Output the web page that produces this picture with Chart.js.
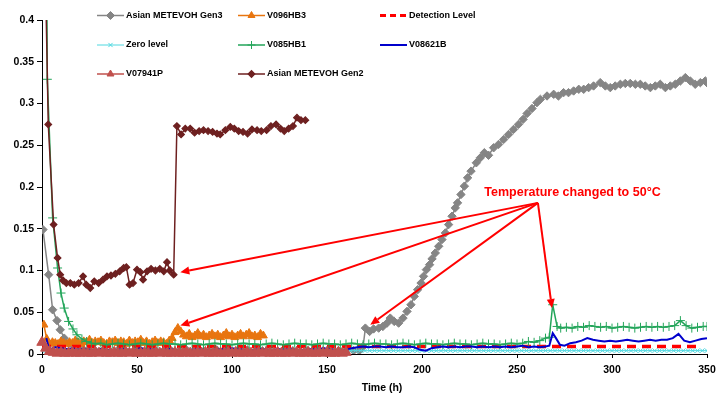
<!DOCTYPE html>
<html><head><meta charset="utf-8">
<script src="https://cdn.jsdelivr.net/npm/chart.js@4.4.1/dist/chart.umd.min.js"></script>
<style>html,body{margin:0;padding:0;background:#fff}canvas{display:block}</style>
</head><body>
<canvas id="c" width="724" height="398"></canvas>
<script>
// ---------- data ----------
const seriesNames = ["Asian METEVOH Gen3","V096HB3","Detection Level","Zero level","V085HB1","V08621B","V07941P","Asian METEVOH Gen2"];
const xTicks = [0,50,100,150,200,250,300,350];
const yTicks = [0,0.05,0.1,0.15,0.2,0.25,0.3,0.35,0.4];

const gen3 = [[0.5,0.149],[3.5,0.095],[5.6,0.053],[7.9,0.040],[9.6,0.029],[11.7,0.019],[14,0.013],[16.3,0.011],[18.4,0.009],[21,0.007],[24,0.005],[28,0.004],
[32,0.004],[36,0.003],[40,0.005],[44,0.004],[48,0.003],[52,0.004],[56,0.005],[60,0.003],[64,0.004],[68,0.004],[72,0.003],[76,0.005],[80,0.004],[84,0.003],[88,0.004],[92,0.005],[96,0.004],[100,0.003],[104,0.004],[108,0.005],[112,0.003],[116,0.004],[120,0.004],[124,0.003],[128,0.005],[132,0.004],[136,0.003],[140,0.004],[144,0.005],[148,0.004],[152,0.003],[156,0.004],[160,0.005],[164,0.004],
[167,0.004],[169,0.009],[170.2,0.031],[172.4,0.027],[174.5,0.030],[177.2,0.031],[179.4,0.033],[181.6,0.037],[183.3,0.043],[185.4,0.039],[187.7,0.037],[190,0.043],[192.1,0.051],[194.2,0.059],[195.9,0.069],[197.7,0.077],[199.5,0.085],[200.8,0.093],[202.3,0.101],[204,0.107],[205.3,0.114],[207,0.121],[208.8,0.129],[210.5,0.137],[212.3,0.145],[214,0.155],[215.8,0.165],[217.5,0.175],[218.7,0.181],[220.5,0.191],[222.3,0.201],[224,0.211],[225.8,0.219],[228.6,0.229],[230.7,0.235],[232.8,0.241],[235,0.238],[237.7,0.247],[240.3,0.251],[243,0.257],[245.6,0.263],[248.2,0.269],[250.8,0.275],[253.2,0.281],[255.3,0.288],[257.9,0.294],[260.5,0.301],[262.3,0.305],[265.8,0.309],[269.3,0.311],[271.8,0.309],[274.5,0.313],[277.1,0.313],[279.8,0.315],[282.5,0.317],[285.1,0.317],[287.7,0.319],[290.3,0.321],[293.8,0.325],[296.5,0.321],[299.1,0.319],[301.7,0.321],[304.4,0.323],[307,0.324],[309.6,0.324],[312.3,0.323],[314.9,0.323],[317.5,0.321],[320.2,0.319],[322.8,0.321],[325.4,0.323],[328.1,0.319],[330.7,0.321],[333.3,0.323],[336,0.327],[338.6,0.331],[341.2,0.327],[343.8,0.323],[346.5,0.325],[349.1,0.327],[350.8,0.323]];

const gen2 = [[1,0.55],[3.3,0.275],[6.1,0.155],[8.2,0.115],[9.6,0.095],[11.1,0.088],[12.8,0.085],[14.9,0.085],[17,0.083],[19.3,0.085],[21.6,0.093],[23.3,0.083],[25.4,0.079],[27.5,0.087],[29.8,0.085],[32.1,0.089],[34.2,0.093],[36.3,0.094],[38.6,0.096],[40.9,0.099],[43,0.103],[44.4,0.104],[46.1,0.083],[47.9,0.085],[50,0.101],[51.8,0.098],[53.2,0.089],[55.3,0.099],[57.4,0.102],[59.7,0.100],[62,0.102],[64.1,0.099],[65.8,0.110],[67.2,0.100],[69.3,0.095],
[71,0.273],[73.2,0.263],[75.4,0.270],[78,0.270],[80.3,0.265],[82.7,0.267],[85,0.268],[87.4,0.267],[89.8,0.266],[92.1,0.264],[93.8,0.263],[96.5,0.268],[99.1,0.272],[101.2,0.270],[103.5,0.267],[105.8,0.266],[108.2,0.264],[110.5,0.269],[113.2,0.268],[115.4,0.267],[118.2,0.268],[120.5,0.273],[123.2,0.275],[125.5,0.270],[127.5,0.267],[129.8,0.270],[132.1,0.273],[134.2,0.283],[136.3,0.280],[138.6,0.280]];

const orangeStart = 1, orangeStep = 1.5;
const v096hb3 = [0.035,0.018,0.012,0.014,0.013,0.012,0.015,0.013,0.012,0.014,0.013,0.016,0.014,0.012,0.015,0.014,0.017,0.013,0.015,0.014,0.016,0.013,0.012,0.015,0.014,0.016,0.013,0.015,0.014,0.012,0.016,0.013,0.015,0.014,0.017,0.013,0.015,0.012,0.014,0.016,0.013,0.015,0.014,0.012,0.016,0.019,0.026,0.031,0.027,0.023,0.021,0.024,0.020,0.022,0.025,0.021,0.023,0.020,0.022,0.024,0.021,0.023,0.020,0.022,0.025,0.021,0.023,0.020,0.022,0.024,0.021,0.023,0.025,0.021,0.022,0.020,0.024,0.022];

const greenEarly = [[2.2,0.55],[2.8,0.329],[5.6,0.163],[8.2,0.103],[10,0.073],[11.7,0.055],[14,0.039],[16.3,0.030],[18.4,0.023],[21,0.018],[23.5,0.015],[26,0.013]];
const greenMidStart = 28, greenStep = 3;
const greenMid = [0.012,0.013,0.011,0.012,0.013,0.012,0.011,0.012,0.013,0.012,0.011,0.012,0.013,0.012,0.012,0.011,0.012,0.013,0.012,0.011,0.012,0.013,0.012,0.012,0.011,0.012,0.013,0.012,0.012,0.011,0.012,0.013,0.012,0.011,0.012,0.013,0.012,0.012,0.011,0.012,0.013,0.012,0.012,0.011,0.012,0.013,0.012,0.011,0.012,0.013,0.012,0.012,0.011,0.012,0.013,0.012,0.011,0.012,0.013,0.012,0.012,0.011,0.012,0.013,0.012,0.012,0.011,0.012,0.013,0.012,0.012,0.011,0.012,0.013,0.012,0.013,0.015,0.014,0.016,0.019];
const greenSpike = [[267,0.020],[268.8,0.059],[271.1,0.033]];
const greenLateStart = 273;
const greenLate = [0.031,0.032,0.031,0.033,0.032,0.034,0.033,0.032,0.033,0.031,0.032,0.033,0.032,0.031,0.032,0.033,0.032,0.033,0.032,0.033,0.034,0.040,0.034,0.031,0.032,0.033];
const greenEnd = [[350,0.033]];

const blueEarly = [[2.3,0.019],[4,0.003],[5.5,0.007]];
const blueMidStart = 7, blueStep = 3;
const blueMid = [0.008,0.007,0.006,0.007,0.005,0.006,0.005,0.004,0.006,0.005,0.004,0.005,0.006,0.004,0.005,0.007,0.005,0.006,0.004,0.005,0.006,0.005,0.004,0.003,0.005,0.006,0.005,0.004,0.005,0.006,0.005,0.007,0.006,0.005,0.004,0.005,0.006,0.005,0.004,0.006,0.005,0.006,0.005,0.004,0.005,0.006,0.005,0.007,0.006,0.005,0.004,
0.005,0.007,0.008,0.009,0.008,0.009,0.009,0.008,0.009,0.008,0.008,0.009,0.008,0.005,0.004,0.007,0.008,0.009,0.008,0.009,0.008,0.009,0.009,0.008,0.009,0.008,0.009,0.008,0.009,0.008,0.009,0.010,0.008,0.009,0.008,0.009];
const blueLate = [[267,0.010],[268.8,0.025],[270.5,0.019],[272.6,0.011],[275,0.010],[278,0.013],[281,0.014],[284,0.016],[287,0.019],[290,0.017],[293,0.016],[296,0.015],[299,0.016],[302,0.015],[305,0.016],[308,0.017],[311,0.016],[314,0.015],[317,0.016],[320,0.017],[323,0.016],[326,0.017],[329,0.017],[332,0.019],[335,0.024],[338,0.016],[341,0.014],[344,0.016],[347,0.018],[350,0.019]];

const roseStart = 0, roseStep = 2;
const v07941p = [0.014,0.007,0.003,0.002,0.001,0.002,0.001,0.001,0.002,0.001,0.001,0.002,0.001,0.001,0.002,0.001,0.002,0.001,0.001,0.002,0.001,0.001,0.002,0.001,0.002,0.001,0.001,0.002,0.001,0.001,0.002,0.001,0.002,0.001,0.001,0.002,0.001,0.001,0.002,0.001,0.001,0.002,0.001,0.002,0.001,0.001,0.002,0.001,0.001,0.002,0.001,0.002,0.001,0.001,0.002,0.001,0.001,0.002,0.001,0.002,0.001,0.001,0.002,0.001,0.001,0.002,0.001,0.002,0.001,0.001,0.002,0.001,0.001,0.002,0.001,0.002,0.001,0.001,0.002,0.001,0.002];

const zeroLevel = 0.004, zeroStart = 0, zeroEnd = 350, zeroStep = 2.5;
const detectionLevel = 0.009, detectionStart = 0, detectionEnd = 347;

// annotation (data coordinates)
const noteText = "Temperature changed to 50°C";
const noteAt = [232.8, 0.193];
const arrowFrom = [261, 0.181];
const arrowToX = [72.8, 72.8, 172.8, 268.4];
const arrowToY = [0.098, 0.034, 0.035, 0.055];
const xTitle = "Time (h)";

// ---------- build ----------
const pairs = a => a.map(p => ({x:p[0], y:p[1]}));
const grid = (start, step, vals) => vals.map((v,i) => ({x: +(start + i*step).toFixed(2), y: v}));
const constLine = (v, a, b, step) => { const out=[]; for (let t=a; t<=b+1e-9; t+=step) out.push({x:t,y:v}); return out; };

const C = {gen3:'#858585', orange:'#E8750F', red:'#FF0000', cyan:'#4FD8E0', green:'#23A55A', blue:'#0000CC', rose:'#C0504D', gen2:'#6E2020'};

const datasets = [
 {label:seriesNames[0], data:pairs(gen3), borderColor:C.gen3, backgroundColor:C.gen3, borderWidth:1.5, pointStyle:'rectRot', pointRadius:4.2, pointBorderWidth:1, order:8},
 {label:seriesNames[1], data:grid(orangeStart, orangeStep, v096hb3), borderColor:C.orange, backgroundColor:C.orange, borderWidth:1.5, pointStyle:'triangle', pointRadius:4.6, pointBorderWidth:1, order:7},
 {label:seriesNames[2], data:[{x:detectionStart,y:detectionLevel},{x:detectionEnd,y:detectionLevel}], borderColor:C.red, backgroundColor:C.red, borderWidth:3.5, borderDash:[9,6], pointRadius:0, order:6},
 {label:seriesNames[3], data:constLine(zeroLevel, zeroStart, zeroEnd, zeroStep), borderColor:C.cyan, backgroundColor:C.cyan, borderWidth:1, pointStyle:'crossRot', pointRadius:3, pointBorderWidth:1, order:5},
 {label:seriesNames[4], data:[...pairs(greenEarly), ...grid(greenMidStart, greenStep, greenMid), ...pairs(greenSpike), ...grid(greenLateStart, greenStep, greenLate), ...pairs(greenEnd)], borderColor:C.green, backgroundColor:C.green, borderWidth:1.5, pointStyle:'cross', pointRadius:4.5, pointBorderWidth:1, order:4},
 {label:seriesNames[5], data:[...pairs(blueEarly), ...grid(blueMidStart, blueStep, blueMid), ...pairs(blueLate)], borderColor:C.blue, backgroundColor:C.blue, borderWidth:2, pointRadius:0, order:3},
 {label:seriesNames[6], data:grid(roseStart, roseStep, v07941p), borderColor:C.rose, backgroundColor:C.rose, borderWidth:1.5, pointStyle:'triangle', pointRadius:6, pointBorderWidth:1, order:2, clip:{left:6,right:6,top:6,bottom:6}},
 {label:seriesNames[7], data:pairs(gen2), borderColor:C.gen2, backgroundColor:C.gen2, borderWidth:1.5, pointStyle:'rectRot', pointRadius:3.3, pointBorderWidth:1.2, order:1}
];

const FONT = '"Liberation Sans", Arial, sans-serif';

const overlay = {
  id:'overlay',
  afterDatasetsDraw(chart){
    const {ctx, scales:{x, y}} = chart;
    ctx.save();
    const fx = x.getPixelForValue(arrowFrom[0]), fy = y.getPixelForValue(arrowFrom[1]);
    ctx.strokeStyle = '#FF0000'; ctx.fillStyle = '#FF0000'; ctx.lineWidth = 2;
    arrowToX.forEach((tx, i) => {
      const px = x.getPixelForValue(tx), py = y.getPixelForValue(arrowToY[i]);
      const ang = Math.atan2(py - fy, px - fx);
      const hl = 9, hw = 4;
      const bx = px - hl*Math.cos(ang), by = py - hl*Math.sin(ang);
      ctx.beginPath(); ctx.moveTo(fx, fy); ctx.lineTo(bx, by); ctx.stroke();
      ctx.beginPath();
      ctx.moveTo(px, py);
      ctx.lineTo(bx + hw*Math.sin(ang), by - hw*Math.cos(ang));
      ctx.lineTo(bx - hw*Math.sin(ang), by + hw*Math.cos(ang));
      ctx.closePath(); ctx.fill();
    });
    ctx.font = 'bold 12.5px ' + FONT;
    ctx.textAlign = 'left'; ctx.textBaseline = 'middle';
    ctx.fillText(noteText, x.getPixelForValue(noteAt[0]), y.getPixelForValue(noteAt[1]));
    ctx.restore();
  },
  afterDraw(chart){
    const {ctx} = chart;
    ctx.save();
    ctx.font = 'bold 10.5px ' + FONT; ctx.fillStyle = '#000';
    ctx.textAlign = 'center'; ctx.textBaseline = 'middle';
    ctx.fillText(xTitle, 382, 388);
    const cols = [97, 238, 380], rows = [15.5, 45, 74];
    chart.data.datasets.forEach((ds, i) => {
      const cx = cols[i % 3], cy = rows[Math.floor(i / 3)];
      ctx.save();
      ctx.strokeStyle = ds.borderColor; ctx.fillStyle = ds.backgroundColor;
      ctx.lineWidth = Math.min(ds.borderWidth, 3);
      ctx.setLineDash(ds.borderDash ? [6,4] : []);
      ctx.beginPath(); ctx.moveTo(cx, cy); ctx.lineTo(cx + 27, cy); ctx.stroke();
      ctx.setLineDash([]);
      if (ds.pointRadius > 0) {
        ctx.lineWidth = ds.pointBorderWidth || 1;
        Chart.helpers.drawPoint(ctx, {pointStyle: ds.pointStyle, radius: Math.min(ds.pointRadius, 4), borderWidth: ds.pointBorderWidth || 1, rotation: 0}, cx + 13.5, cy);
      }
      ctx.restore();
      ctx.font = 'bold 9px ' + FONT; ctx.fillStyle = '#000';
      ctx.textAlign = 'left'; ctx.textBaseline = 'middle';
      ctx.fillText(ds.label, cx + 29, cy);
    });
    ctx.restore();
  }
};

new Chart(document.getElementById('c'), {
  type: 'line',
  data: {datasets},
  plugins: [overlay],
  options: {
    responsive: false, animation: false,
    layout: {padding: {top: 20, right: 17, left: 0, bottom: 0}},
    plugins: {legend: {display: false}, tooltip: {enabled: false}},
    elements: {line: {tension: 0}},
    scales: {
      x: {type: 'linear', min: 0, max: 350,
        afterFit(s){ s.height = 44; },
        afterBuildTicks(s){ s.ticks = xTicks.map(v => ({value: v})); },
        grid: {drawOnChartArea: false, drawTicks: true, tickLength: 4, color: '#000'},
        border: {color: '#000', width: 1},
        ticks: {font: {family: FONT, size: 10.5, weight: 'bold'}, color: '#000', padding: 6, maxRotation: 0}
      },
      y: {type: 'linear', min: 0, max: 0.4,
        afterFit(s){ s.width = 42; },
        afterBuildTicks(s){ s.ticks = yTicks.map(v => ({value: v})); },
        grid: {drawOnChartArea: false, drawTicks: true, tickLength: 5, color: '#000'},
        border: {color: '#000', width: 1},
        ticks: {font: {family: FONT, size: 10.5, weight: 'bold'}, color: '#000', padding: 3,
          callback: v => String(parseFloat(Number(v).toFixed(2)))}
      }
    }
  }
});
</script>
</body></html>
